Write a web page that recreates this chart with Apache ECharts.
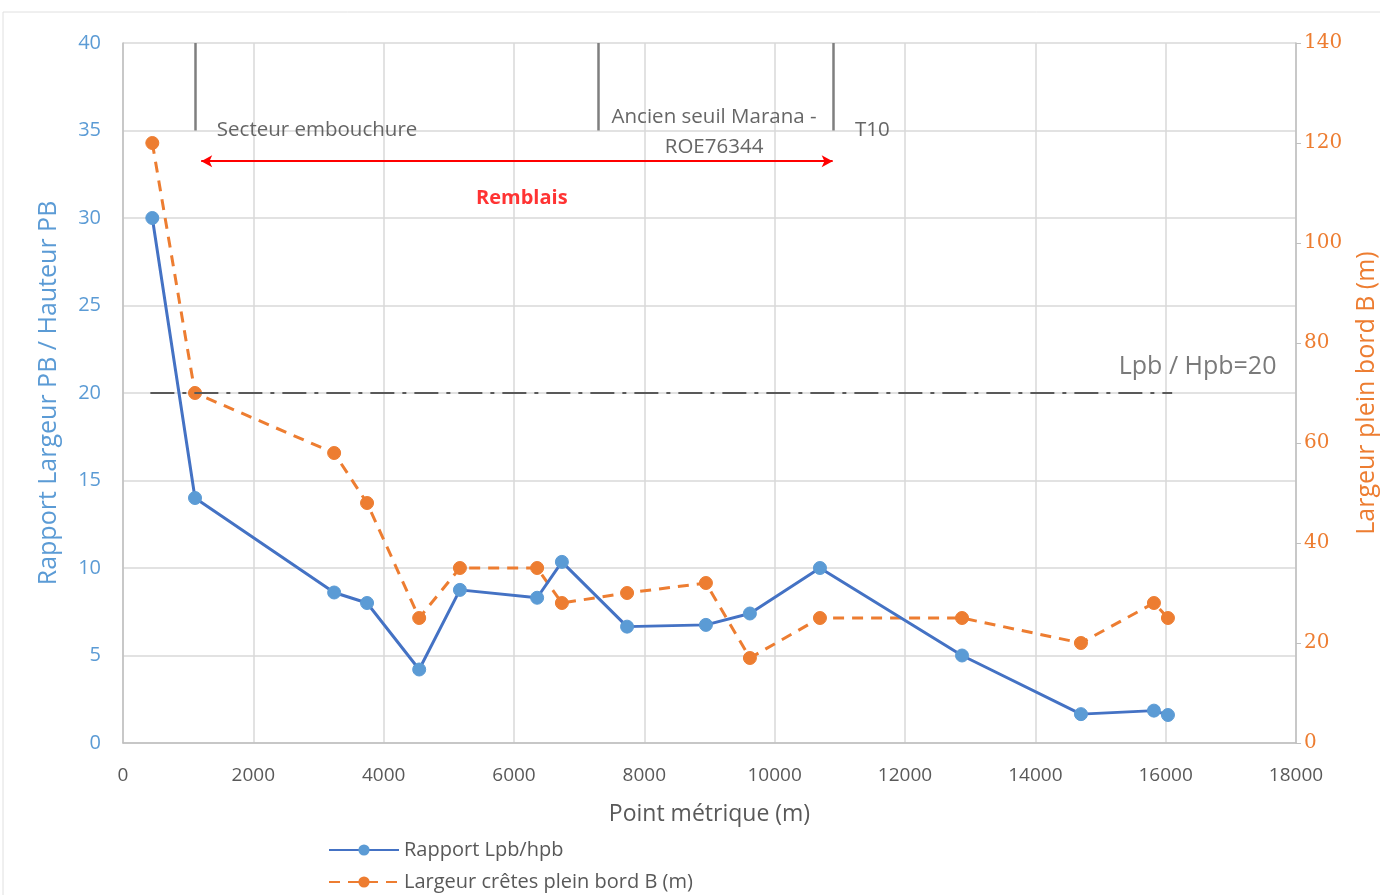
<!DOCTYPE html>
<html>
<head>
<meta charset="utf-8">
<script src="https://cdn.jsdelivr.net/npm/echarts@6/dist/echarts.min.js"></script>
<style>
html,body{margin:0;padding:0;background:#fff;}
#chart{width:1380px;height:895px;}
</style>
</head>
<body>
<div id="chart"></div>
<script>
// Data
const pointMetrique = [450, 1105, 3240, 3745, 4545, 5170, 6355, 6735, 7735, 8945, 9620, 10695, 12875, 14700, 15820, 16035];
const rapportLpbHpb = [30.0, 14.0, 8.6, 8.0, 4.2, 8.75, 8.3, 10.35, 6.65, 6.75, 7.4, 10.0, 5.0, 1.65, 1.85, 1.6];
const largeurCretes = [120, 70, 58, 48, 25, 35, 35, 28, 30, 32, 17, 25, 25, 20, 28, 25];
const xTicks = {min: 0, max: 18000, interval: 2000};
const leftTicks = {min: 0, max: 40, interval: 5};
const rightTicks = {min: 0, max: 140, interval: 20};
// Annotations (data units)
const seuilLine = {value: 20, from: 420, to: 16100, label: 'Lpb / Hpb=20', labelX: 17700, labelY: 21.5};
const verticalMarks = [1105, 7290, 10900];
const verticalRange = [35, 40];
const remblaisArrow = {y: 33.25, from: 1200, to: 10890};
const textNotes = [
  {x: 1440, y: 35, text: 'Secteur embouchure', align: 'left'},
  {x: 9070, y: 35.75, text: 'Ancien seuil Marana -', align: 'center'},
  {x: 9070, y: 34.05, text: 'ROE76344', align: 'center'},
  {x: 11500, y: 35, text: 'T10', align: 'center'}
];
const remblaisNote = {x: 6120, y: 31.15, text: 'Remblais'};

const FONT = 'Open Sans';
const BLUE_LINE = '#4472C4';
const BLUE_MARK = '#5B9BD5';
const ORANGE = '#ED7D31';
const GRID = '#d9d9d9';
const TXT = '#595959';

const chart = echarts.init(document.getElementById('chart'));

const blueData = pointMetrique.map((x, i) => [x, rapportLpbHpb[i]]);
const orangeData = pointMetrique.map((x, i) => [x, largeurCretes[i]]);

const noteData = textNotes.map(n => ({
  value: [n.x, n.y],
  label: {show: true, formatter: n.text, position: 'inside', align: n.align, verticalAlign: 'middle',
          color: '#404040', fontSize: 20.5, fontFamily: FONT}
}));
noteData.push({
  value: [remblaisNote.x, remblaisNote.y],
  label: {show: true, formatter: remblaisNote.text, position: 'inside', align: 'center', verticalAlign: 'middle',
          color: '#FF0000', fontSize: 20, fontWeight: 'bold', fontFamily: FONT}
});
noteData.push({
  value: [seuilLine.labelX, seuilLine.labelY],
  label: {show: true, formatter: seuilLine.label, position: 'inside', align: 'right', verticalAlign: 'middle',
          color: TXT, fontSize: 25, fontFamily: FONT}
});

const option = {
  backgroundColor: '#fff',
  animation: false,
  graphic: [{
    type: 'rect', shape: {x: 3, y: 12, width: 1380, height: 890},
    style: {fill: 'none', stroke: '#e0e0e0', lineWidth: 1}, silent: true, z: -10
  }],
  grid: {left: 123, right: 84, top: 43, bottom: 152, containLabel: false, outerBoundsMode: 'none'},
  legend: {
    orient: 'vertical', left: 328, top: 839, itemGap: 10, padding: 0,
    itemWidth: 70, itemHeight: 14,
    data: ['Rapport Lpb/hpb', 'Largeur crêtes plein bord B (m)'],
    textStyle: {color: TXT, fontSize: 20, lineHeight: 22, fontFamily: FONT}
  },
  xAxis: {
    type: 'value', min: xTicks.min, max: xTicks.max, interval: xTicks.interval,
    name: 'Point métrique (m)', nameLocation: 'middle', nameGap: 60,
    nameTextStyle: {color: TXT, fontSize: 23, fontFamily: FONT},
    axisLine: {show: true, lineStyle: {color: '#bfbfbf', width: 1.5}},
    axisTick: {show: false},
    axisLabel: {color: TXT, fontSize: 19, fontFamily: FONT, margin: 23, formatter: v => String(v)},
    splitLine: {show: true, lineStyle: {color: GRID, width: 1.5}}
  },
  yAxis: [{
    type: 'value', min: leftTicks.min, max: leftTicks.max, interval: leftTicks.interval,
    name: 'Rapport Largeur PB / Hauteur PB', nameLocation: 'middle', nameGap: 62,
    nameTextStyle: {color: BLUE_MARK, fontSize: 25, fontFamily: FONT},
    axisLine: {show: true, lineStyle: {color: '#bfbfbf', width: 1.5}},
    axisTick: {show: false},
    axisLabel: {color: BLUE_MARK, fontSize: 20, fontFamily: FONT, margin: 22},
    splitLine: {show: true, lineStyle: {color: GRID, width: 1.5}}
  }, {
    type: 'value', position: 'right', min: rightTicks.min, max: rightTicks.max, interval: rightTicks.interval,
    name: 'Largeur plein bord B (m)', nameLocation: 'middle', nameGap: 58, nameRotate: 90,
    nameTextStyle: {color: ORANGE, fontSize: 25, fontFamily: FONT},
    axisLine: {show: true, lineStyle: {color: '#bfbfbf', width: 1.5}},
    axisTick: {show: true, length: 5, lineStyle: {color: '#bfbfbf'}},
    axisLabel: {color: ORANGE, fontSize: 20, fontFamily: 'DejaVu Serif', margin: 8},
    splitLine: {show: false}
  }],
  series: [{
    name: 'Rapport Lpb/hpb', type: 'line', yAxisIndex: 0, data: blueData,
    symbol: 'circle', symbolSize: 13,
    lineStyle: {color: BLUE_LINE, width: 3},
    itemStyle: {color: BLUE_MARK, borderColor: BLUE_MARK},
    z: 5,
    markLine: {
      silent: true, symbol: ['none', 'none'], animation: false,
      label: {show: false},
      data: [
        [{coord: [seuilLine.from, seuilLine.value], lineStyle: {color: '#595959', width: 2, type: [24, 8, 4, 8]}},
         {coord: [seuilLine.to, seuilLine.value]}]
      ].concat(verticalMarks.map(x => [
        {coord: [x, verticalRange[0]], lineStyle: {color: '#7f7f7f', width: 2.5, type: 'solid'}},
        {coord: [x, verticalRange[1]]}
      ])).concat([[
        {coord: [remblaisArrow.from, remblaisArrow.y], symbol: 'arrow', symbolSize: [9, 11],
         lineStyle: {color: '#FF0000', width: 2, type: 'solid'}},
        {coord: [remblaisArrow.to, remblaisArrow.y], symbol: 'arrow', symbolSize: [9, 11]}
      ]])
    }
  }, {
    name: 'Largeur crêtes plein bord B (m)', type: 'line', yAxisIndex: 1, data: orangeData,
    symbol: 'circle', symbolSize: 13,
    lineStyle: {color: ORANGE, width: 3, type: [11, 8]},
    itemStyle: {color: ORANGE, borderColor: ORANGE},
    z: 4
  }, {
    name: 'notes', type: 'scatter', yAxisIndex: 0, data: noteData,
    symbolSize: 1, itemStyle: {color: 'rgba(0,0,0,0)'}, silent: true, z: 6
  }]
};
chart.setOption(option);
</script>
</body>
</html>
